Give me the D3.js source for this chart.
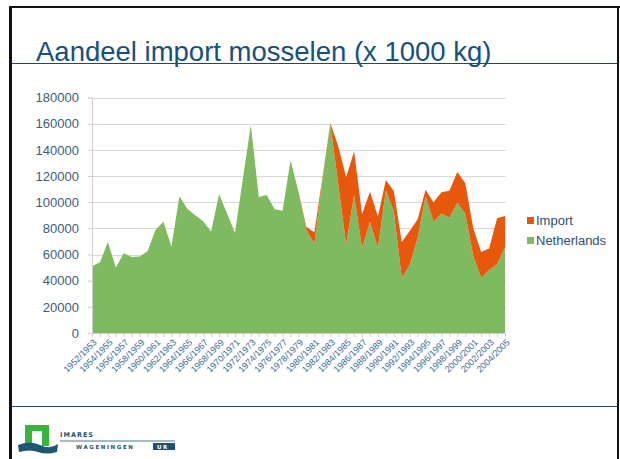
<!DOCTYPE html>
<html><head><meta charset="utf-8">
<script src="https://cdn.jsdelivr.net/npm/d3@7"></script>
<style>body{margin:0;background:#fff}svg{display:block}</style>
</head><body>
<svg id="c" width="620" height="459"></svg>
<script>
const categories = [];
for (let y = 1952; y <= 2004; y++) categories.push(y + "/" + (y + 1));
const netherlands = [51000, 54000, 69500, 50000, 61000, 58000, 58500, 62500, 79000, 85000,
  66000, 104500, 95000, 90000, 85500, 77500, 106000, 91500, 76500, 118000,
  159000, 104000, 105500, 94500, 93500, 132000, 108000, 79000, 68000, 116000,
  160000, 114000, 67500, 105500, 65000, 85000, 65000, 109000, 93000, 42000,
  52000, 72500, 104500, 85000, 91300, 88300, 99500, 91000, 59000, 42000,
  48200, 52500, 65500];
const importVals = [0, 0, 0, 0, 0, 0, 0, 0, 0, 0,
  0, 0, 0, 0, 0, 0, 0, 0, 0, 0,
  0, 0, 0, 0, 0, 0, 0, 2000, 9000, 2000,
  500, 29000, 51500, 33500, 26000, 23000, 24000, 8000, 15500, 27500,
  26000, 14500, 5000, 15000, 16200, 20400, 23500, 23500, 21000, 20000,
  16300, 35200, 24000];
const yTicks = [0, 20000, 40000, 60000, 80000, 100000, 120000, 140000, 160000, 180000];
const seriesNames = ["Netherlands", "Import"];
const legendOrder = ["Import", "Netherlands"];
const colors = {Netherlands: "#7fba61", Import: "#e8580c"};

const svg = d3.select("#c");
const rows = categories.map((c, i) => ({cat: c, Netherlands: netherlands[i], Import: importVals[i]}));

// slide frame
svg.append("rect").attr("x", 0).attr("y", 0).attr("width", 620).attr("height", 459).attr("fill", "#fff");
svg.append("line").attr("x1", 10.5).attr("x2", 10.5).attr("y1", 6).attr("y2", 459).attr("stroke", "#111").attr("stroke-width", 3);
svg.append("line").attr("x1", 9).attr("x2", 620).attr("y1", 7).attr("y2", 7).attr("stroke", "#111").attr("stroke-width", 2);
svg.append("line").attr("x1", 618).attr("x2", 618).attr("y1", 6).attr("y2", 459).attr("stroke", "#111").attr("stroke-width", 2);
svg.append("line").attr("x1", 12).attr("x2", 617).attr("y1", 63.5).attr("y2", 63.5).attr("stroke", "#1d4a6c").attr("stroke-width", 1.2);
svg.append("line").attr("x1", 12).attr("x2", 617).attr("y1", 406.5).attr("y2", 406.5).attr("stroke", "#1d4a6c").attr("stroke-width", 1.2);

svg.append("text").attr("x", 36).attr("y", 61).attr("font-family", "Liberation Sans, Arial, sans-serif")
  .attr("font-size", 27.5).attr("fill", "#17507e").text("Aandeel import mosselen (x 1000 kg)");

const x = d3.scalePoint().domain(categories).range([92, 505]);
const y = d3.scaleLinear().domain([0, 180000]).range([333, 97.5]);

// gridlines
svg.append("g").selectAll("line").data(yTicks.filter(d => d > 0)).join("line")
  .attr("x1", 92).attr("x2", 506).attr("y1", d => Math.round(y(d)) + 0.5).attr("y2", d => Math.round(y(d)) + 0.5)
  .attr("stroke", "#d9d9d9").attr("stroke-width", 1);

const stack = d3.stack().keys(seriesNames);
const layers = stack(rows);
const area = d3.area().x(d => x(d.data.cat)).y0(d => y(d[0])).y1(d => y(d[1]));
svg.append("g").selectAll("path").data(layers).join("path")
  .attr("d", area).attr("fill", d => colors[d.key]);

// y axis
const yAxis = svg.append("g").attr("transform", "translate(92,0)")
  .call(d3.axisLeft(y).tickValues(yTicks).tickFormat(d3.format("d")).tickSize(4).tickPadding(9));
yAxis.select(".domain").attr("stroke", "#cfcfcf");
yAxis.selectAll(".tick line").attr("stroke", "#cfcfcf");
yAxis.selectAll("text").attr("font-family", "Liberation Sans, Arial, sans-serif").attr("font-size", 13).attr("fill", "#3e5d7a");

// x axis
const xAxis = svg.append("g").attr("transform", "translate(0,333)")
  .call(d3.axisBottom(x).tickSize(4).tickFormat((d, i) => i % 2 === 0 ? d : ""));
xAxis.select(".domain").attr("stroke", "#cfcfcf");
xAxis.selectAll(".tick line").attr("stroke", "#cfcfcf");
xAxis.selectAll("text").attr("font-family", "Liberation Sans, Arial, sans-serif").attr("font-size", 9)
  .attr("fill", "#3e6a92").attr("text-anchor", "end")
  .attr("transform", "translate(3,8) rotate(-45)").attr("dy", "0.3em").attr("y", 0).attr("x", 0);

// legend
const lg = svg.append("g").selectAll("g").data(legendOrder).join("g")
  .attr("transform", (d, i) => `translate(527,${217 + i * 20})`);
lg.append("rect").attr("width", 7).attr("height", 7).attr("fill", d => colors[d]);
lg.append("text").attr("x", 9).attr("y", 8).attr("font-family", "Liberation Sans, Arial, sans-serif")
  .attr("font-size", 13).attr("fill", "#2e4f6e").text(d => d);

// logo
const logo = svg.append("g");
logo.append("rect").attr("x", 25).attr("y", 425).attr("width", 24).attr("height", 21).attr("fill", "#3cb33c");
logo.append("rect").attr("x", 32).attr("y", 431).attr("width", 10).attr("height", 15).attr("fill", "#fff");
logo.append("path").attr("d", "M18,445 Q30,440 40,445 T58,444 L57,452 Q46,455 38,452 T19,452 Z").attr("fill", "#1f5672");
logo.append("text").attr("x", 60).attr("y", 437).attr("font-family", "DejaVu Sans, sans-serif").attr("font-weight", "bold")
  .attr("font-size", 6.5).attr("letter-spacing", 1).attr("fill", "#1f4f73").text("IMARES");
logo.append("line").attr("x1", 60).attr("x2", 175).attr("y1", 441).attr("y2", 441).attr("stroke", "#1f4f73").attr("stroke-width", 0.8);
logo.append("text").attr("x", 76).attr("y", 449).attr("font-family", "DejaVu Sans, sans-serif").attr("font-weight", "bold")
  .attr("font-size", 5.5).attr("letter-spacing", 1.6).attr("fill", "#1f4f73").text("WAGENINGEN");
logo.append("rect").attr("x", 153).attr("y", 443).attr("width", 22).attr("height", 7).attr("fill", "#1f4f73");
logo.append("text").attr("x", 157).attr("y", 449).attr("font-family", "DejaVu Sans, sans-serif").attr("font-weight", "bold")
  .attr("font-size", 5.5).attr("letter-spacing", 1.6).attr("fill", "#fff").text("UR");
</script>
</body></html>
